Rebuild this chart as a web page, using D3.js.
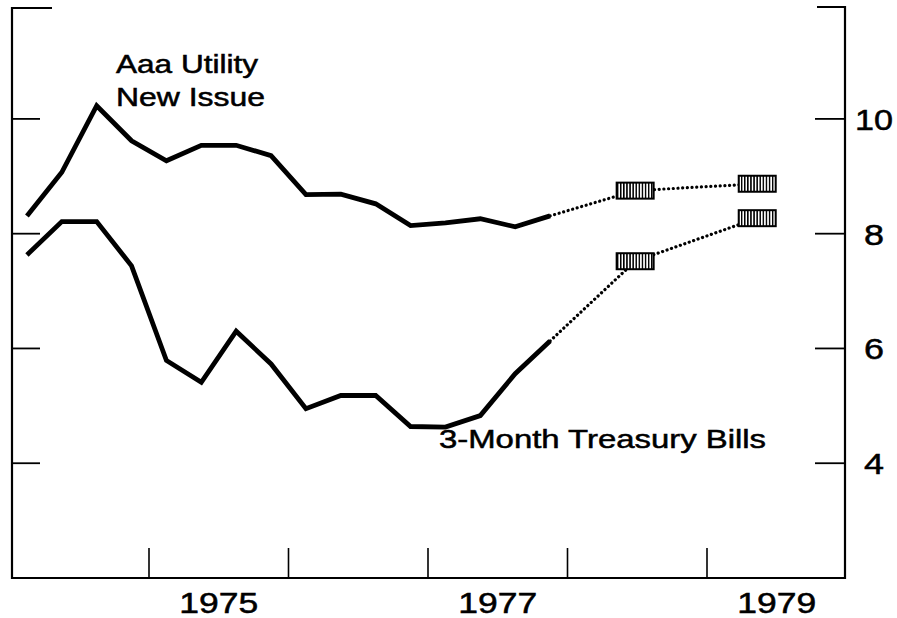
<!DOCTYPE html>
<html>
<head>
<meta charset="utf-8">
<script src="https://cdn.jsdelivr.net/npm/d3@7"></script>
<style>
  body { margin: 0; background: #fff; overflow: hidden; }
  svg { display: block; }
  text { font-family: "Liberation Sans", Arial, Helvetica, sans-serif; fill: #000;
         stroke: #000; stroke-width: 0.5px; }
</style>
</head>
<body>
<div class="chart"></div>
<script>
// quarterly averages, plotted at mid-quarter
var quarters = [1974.125, 1974.375, 1974.625, 1974.875,
                1975.125, 1975.375, 1975.625, 1975.875,
                1976.125, 1976.375, 1976.625, 1976.875,
                1977.125, 1977.375, 1977.625, 1977.875]
  , utilityRates = [8.31, 9.07, 10.23, 9.62, 9.27, 9.54, 9.54, 9.36,
                    8.68, 8.69, 8.52, 8.14, 8.19, 8.26, 8.12, 8.31]
  , billRates = [7.63, 8.21, 8.21, 7.44, 5.79, 5.41, 6.30, 5.73,
                 4.95, 5.18, 5.18, 4.64, 4.63, 4.83, 5.56, 6.13];

// projections (hatched boxes)
var forecastDates = [1978.485, 1979.36]
  , utilityForecast = [8.75, 8.87]
  , billForecast = [7.52, 8.27];

var yearTicks = [1975, 1976, 1977, 1978, 1979]
  , yearLabels = [1975, 1977, 1979]
  , rateTicks = [4, 6, 8, 10];

// note: "top" is taken by window.top, so plot edges get their own names
var w = 897
  , h = 618
  , plotLeft = 12
  , plotRight = 845
  , plotTop = 7
  , plotBottom = 578;

var x = d3.scaleLinear().domain([1974, 1980]).range([9.5, 846.5])
  , y = d3.scaleLinear().domain([2, 11.95]).range([plotBottom, plotTop]);

var svg = d3.select('.chart')
            .append('svg')
            .attr('width', w)
            .attr('height', h);

var defs = svg.append('defs');
var hatch = defs.append('pattern')
    .attr('id', 'hatch')
    .attr('patternUnits', 'userSpaceOnUse')
    .attr('width', 3.1)
    .attr('height', 20);
hatch.append('rect').attr('width', 3.1).attr('height', 20).attr('fill', '#fff');
hatch.append('rect').attr('x', 0).attr('width', 1.5).attr('height', 20).attr('fill', '#000');

var stretch = function (sel, len) {
  sel.attr('textLength', len).attr('lengthAdjust', 'spacingAndGlyphs');
};

// frame
var frame = svg.append('g')
    .attr('stroke', '#000')
    .attr('fill', 'none');

frame.append('path')
    .attr('stroke-width', 2.2)
    .attr('d', 'M' + (plotLeft + 40) + ',' + (plotTop + 1) + 'H' + plotLeft + 'V' + plotBottom +
               'H' + plotRight + 'V' + plotTop + 'H' + (plotRight - 28));

// left / right ticks
frame.selectAll('line.ltick')
    .data(rateTicks)
    .enter()
    .append('line')
    .attr('class', 'ltick')
    .attr('stroke-width', 1.8)
    .attr('x1', plotLeft)
    .attr('x2', plotLeft + 28)
    .attr('y1', function (d) { return y(d); })
    .attr('y2', function (d) { return y(d); });

frame.selectAll('line.rtick')
    .data(rateTicks)
    .enter()
    .append('line')
    .attr('class', 'rtick')
    .attr('stroke-width', 1.8)
    .attr('x1', plotRight - 30)
    .attr('x2', plotRight)
    .attr('y1', function (d) { return y(d); })
    .attr('y2', function (d) { return y(d); });

// year boundary ticks
frame.selectAll('line.xtick')
    .data(yearTicks)
    .enter()
    .append('line')
    .attr('class', 'xtick')
    .attr('stroke-width', 1.6)
    .attr('x1', function (d) { return x(d); })
    .attr('x2', function (d) { return x(d); })
    .attr('y1', plotBottom)
    .attr('y2', plotBottom - 30);

svg.selectAll('text.year')
    .data(yearLabels)
    .enter()
    .append('text')
    .attr('class', 'year')
    .attr('x', function (d) { return x(d + 0.5); })
    .attr('y', plotBottom + 35)
    .attr('text-anchor', 'middle')
    .attr('font-size', 29)
    .text(function (d) { return d; })
    .call(stretch, 79);

svg.selectAll('text.rate')
    .data(rateTicks)
    .enter()
    .append('text')
    .attr('class', 'rate')
    .attr('x', 874)
    .attr('y', function (d) { return y(d) + 11; })
    .attr('text-anchor', 'middle')
    .attr('font-size', 29)
    .text(function (d) { return d; })
    .each(function (d) {
      d3.select(this).call(stretch, d >= 10 ? 38 : 20);
    });

// series
var line = d3.line()
    .x(function (d) { return x(d[0]); })
    .y(function (d) { return y(d[1]); });

var drawSeries = function (values, forecast) {
  var actual = quarters.map(function (q, i) { return [q, values[i]]; })
    , last = actual[actual.length - 1]
    , proj = [last].concat(forecastDates.map(function (f, i) { return [f, forecast[i]]; }));

  svg.append('path')
      .datum(actual)
      .attr('fill', 'none')
      .attr('stroke', '#000')
      .attr('stroke-width', 4.8)
      .attr('stroke-linejoin', 'miter')
      .attr('d', line);

  svg.append('path')
      .datum(proj)
      .attr('fill', 'none')
      .attr('stroke', '#000')
      .attr('stroke-width', 3.2)
      .attr('stroke-linecap', 'round')
      .attr('stroke-dasharray', '0.1,4.6')
      .attr('d', line);

  svg.selectAll(null)
      .data(proj.slice(1))
      .enter()
      .append('rect')
      .attr('x', function (d) { return x(d[0]) - 18.5; })
      .attr('y', function (d) { return y(d[1]) - 8; })
      .attr('width', 37)
      .attr('height', 16)
      .attr('fill', 'url(#hatch)')
      .attr('stroke', '#000')
      .attr('stroke-width', 2);
};

drawSeries(utilityRates, utilityForecast);
drawSeries(billRates, billForecast);

// labels
svg.append('text').attr('x', 116).attr('y', 73).attr('font-size', 25)
    .text('Aaa Utility').call(stretch, 142);
svg.append('text').attr('x', 116).attr('y', 106).attr('font-size', 25)
    .text('New Issue').call(stretch, 149);
svg.append('text').attr('x', 439).attr('y', 448).attr('font-size', 25)
    .text('3-Month Treasury Bills').call(stretch, 327);
</script>
</body>
</html>
